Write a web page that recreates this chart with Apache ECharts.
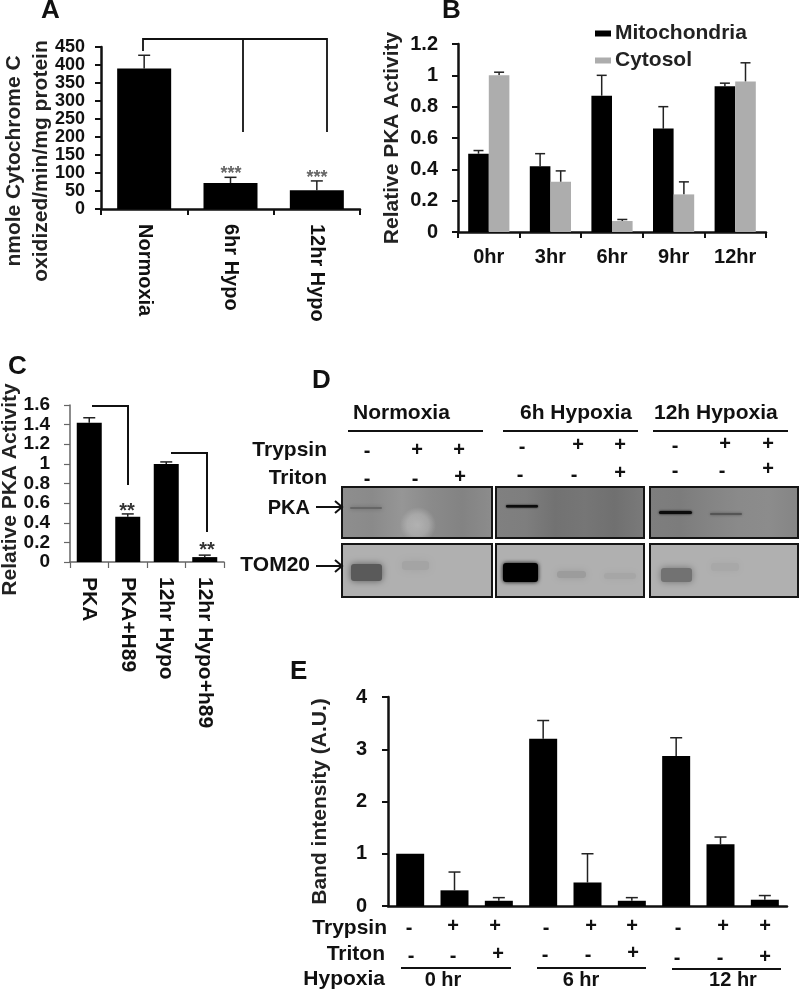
<!DOCTYPE html>
<html><head><meta charset="utf-8">
<style>html,body{margin:0;padding:0;background:#fff}#c{width:800px;height:989px}</style>
<script src="https://cdn.jsdelivr.net/npm/echarts@6/dist/echarts.min.js"></script>
</head><body><div id="c"></div>
<script>
const catA = ['Normoxia','6hr Hypo','12hr Hypo'];
const valA = [390,72,52];
const topA = [427,88,78];
const catB = ['0hr','3hr','6hr','9hr','12hr'];
const mito = [0.5,0.42,0.87,0.66,0.93];
const mitoTop = [0.52,0.5,1.0,0.8,0.95];
const cyto = [1.0,0.32,0.07,0.24,0.96];
const cytoTop = [1.02,0.39,0.08,0.32,1.08];
const catC = ['PKA','PKA+H89','12hr Hypo','12hr Hypo+h89'];
const valC = [1.42,0.46,1.0,0.05];
const topC = [1.47,0.49,1.02,0.07];
const catE = ['0 hr -/-','0 hr +/-','0 hr +/+','6 hr -/-','6 hr +/-','6 hr +/+','12 hr -/-','12 hr +/-','12 hr +/+'];
const valE = [1,0.3,0.1,3.2,0.45,0.1,2.87,1.18,0.12];
const topE = [1,0.65,0.16,3.55,1.0,0.16,3.22,1.32,0.2];

const FF = '"Liberation Sans", Arial, sans-serif';
const INK = '#111';

function errSeries(gi, vals, tops, off, cap, color) {
  return {
    type:'custom', xAxisIndex:gi, yAxisIndex:gi, z:1, silent:true,
    data: vals.map((v,i)=>[i,v,tops[i]]),
    encode:{x:0,y:[1,2]},
    renderItem(p, api){
      if (api.value(2) <= api.value(1)) return null;
      const a = api.coord([api.value(0),api.value(1)]);
      const b = api.coord([api.value(0),api.value(2)]);
      const x = a[0]+off;
      const st = {stroke:color||'#222',lineWidth:1.5,fill:null};
      return {type:'group',children:[
        {type:'line',shape:{x1:x,y1:a[1],x2:x,y2:b[1]},style:st},
        {type:'line',shape:{x1:x-cap,y1:b[1],x2:x+cap,y2:b[1]},style:st}
      ]};
    }
  };
}
function bar(gi, vals, w, color, name, extra) {
  return Object.assign({type:'bar',name,xAxisIndex:gi,yAxisIndex:gi,data:vals,barWidth:w,barGap:0,z:2,
    itemStyle:{color},silent:true},extra||{});
}
function xAx(gi, cats, o) {
  return Object.assign({type:'category',gridIndex:gi,data:cats,
    axisLine:{lineStyle:{color:INK,width:2.5}},
    axisTick:{show:true,length:6,lineStyle:{color:INK,width:2}},
    axisLabel:{fontFamily:FF,fontWeight:'bold',fontSize:20,color:INK,margin:15,interval:0}},o||{});
}
function yAx(gi, min, max, itv, margin, size, name, gap, o) {
  return Object.assign({type:'value',gridIndex:gi,min,max,interval:itv,splitLine:{show:false},
    axisLine:{show:true,lineStyle:{color:INK,width:2.5}},
    axisTick:{show:true,length:6,lineStyle:{color:INK,width:2}},
    axisLabel:{fontFamily:FF,fontWeight:'bold',fontSize:size,color:INK,margin,showMinLabel:true,showMaxLabel:true,
      formatter:v=>String(+v.toFixed(1))},
    name,nameLocation:'middle',nameGap:gap,nameRotate:90,nameMoveOverlap:false,
    nameTextStyle:{fontFamily:FF,fontWeight:'bold',fontSize:21,color:'#222'}},o||{});
}

const g = [];
function T(x,y,text,size,align,color,extra){
  g.push({type:'text',x,y,silent:true,style:Object.assign({text,font:`bold ${size}px ${FF}`,fill:color||INK,
    textAlign:align||'left',textVerticalAlign:'middle',verticalAlign:'middle',align:align||'left'},extra||{})});
}
function L(pts,w,color){
  g.push({type:'polyline',silent:true,shape:{points:pts},style:{stroke:color||INK,lineWidth:w||2,fill:null}});
}
function band(x,y,w,h,color,blur){
  g.push({type:'rect',silent:true,shape:{x,y,width:w,height:h,r:Math.min(h/2,3)},
    style:{fill:color,shadowBlur:blur,shadowColor:color}});
}
function blob(x,y,w,h,rgb,a){
  g.push({type:'rect',silent:true,shape:{x,y,width:w,height:h},style:{fill:{type:'radial',x:0.5,y:0.5,r:0.5,
    colorStops:[{offset:0,color:`rgba(${rgb},${a})`},{offset:0.6,color:`rgba(${rgb},${a*0.7})`},{offset:1,color:`rgba(${rgb},0)`}]}}});
}
function panel(x,y,w,h,fill){
  g.push({type:'rect',silent:true,shape:{x,y,width:w,height:h},style:{fill,stroke:null}});
}
function hgrad(stops){
  return {type:'linear',x:0,y:0,x2:1,y2:0,colorStops:stops.map((c,i)=>({offset:i/(stops.length-1),color:c}))};
}
function frame(x,y,w,h){
  g.push({type:'rect',silent:true,shape:{x,y,width:w,height:h},style:{fill:null,stroke:'#151515',lineWidth:2}});
}

// panel letters
T(41,11,'A',26); T(442,11,'B',26); T(8,367,'C',26); T(312,381,'D',26); T(290,672,'E',26);

// A annotations
L([[143,51],[143,39],[327,39],[327,132]],1.8);
L([[243,39],[243,132]],1.8);
T(231,174,'***',18,'center','#666'); T(317,178,'***',18,'center','#666');

// C annotations
L([[92,406],[128,406],[128,485]],2);
L([[171,453],[207,453],[207,532]],2);
T(127,511,'**',20,'center','#333'); T(207,550,'**',20,'center','#333');

// D blots
const px = [[342,150],[496,148],[650,148]];
const fillsP = [
  hgrad(['#8e8e8e','#8a8a8a','#969696','#8a8a8a','#838383','#8c8c8c']),
  hgrad(['#808080','#7e7e7e','#727272','#767676','#707070','#7a7a7a']),
  hgrad(['#7e7e7e','#7c7c7c','#848484','#8a8a8a','#8c8c8c','#858585'])];
px.forEach((p,i)=>panel(p[0],487,p[1],51,fillsP[i]));
px.forEach(p=>panel(p[0],544,p[1],53,'#b0b0b0'));
blob(400,507,36,36,'255,255,255',0.3);
band(350,507,32,2,'#666',4);
band(506,505,32,2.5,'#0c0c0c',2);
band(659,511,33,3,'#0c0c0c',2.5);
band(710,513,32,2,'#555',3);
band(351,564,31,17,'#5a5a5a',7);
band(402,561,27,9,'#a4a4a4',8);
band(503,563,35,19,'#000',4);
band(557,571,29,7,'#9c9c9c',7);
band(604,573,32,6,'#a6a6a6',6);
band(661,568,31,14,'#727272',7);
band(711,563,28,8,'#a8a8a8',7);
px.forEach(p=>{frame(p[0],487,p[1],51);frame(p[0],544,p[1],53);});
L([[348,431],[483,431]],2); L([[503,431],[638,431]],2); L([[653,431],[788,431]],2);
T(353,413,'Normoxia',21); T(520,413,'6h Hypoxia',21); T(654,413,'12h Hypoxia',21);
T(327,450,'Trypsin',21,'right'); T(327,478,'Triton',21,'right');
T(310,508,'PKA',20,'right'); T(310,565,'TOM20',21,'right');
[[316,507],[316,566]].forEach(a=>{
  L([[a[0],a[1]],[a[0]+26,a[1]]],2);
  L([[a[0]+19,a[1]-6],[a[0]+26,a[1]],[a[0]+19,a[1]+6]],2);
});
const signsD = [
 ['-',367,451],['+',417,450],['+',459,450],['-',367,479],['-',415,479],['+',460,477],
 ['-',522,447],['+',578,445],['+',620,445],['-',520,475],['-',574,475],['+',620,473],
 ['-',675,446],['+',725,444],['+',768,444],['-',675,471],['-',722,471],['+',768,469]];
signsD.forEach(s=>T(s[1],s[2],s[0],20,'center'));

// E table
T(387,928,'Trypsin',21,'right'); T(385,954,'Triton',21,'right'); T(385,979,'Hypoxia',21,'right');
const signsE = [
 ['-',409,928],['+',453,926],['+',495,926],['-',546,928],['+',591,926],['+',632,926],['-',678,928],['+',723,926],['+',765,926],
 ['-',411,956],['-',453,956],['+',498,954],['-',545,955],['-',588,955],['+',633,953],['-',677,958],['-',720,958],['+',765,957]];
signsE.forEach(s=>T(s[1],s[2],s[0],20,'center'));
L([[401,968],[511,968]],2); L([[537,968],[646,968]],2); L([[672,969],[781,969]],2);
T(443,980,'0 hr',20,'center'); T(581,980,'6 hr',20,'center'); T(733,980,'12 hr',20,'center');

const gridBase = {outerBoundsMode:'none',containLabel:false};
const option = {
  animation:false, backgroundColor:'#fff',
  grid:[
    Object.assign({left:101,top:47,width:259,height:162},gridBase),
    Object.assign({left:458,top:44,width:308,height:188},gridBase),
    Object.assign({left:70,top:405,width:154,height:157},gridBase),
    Object.assign({left:388,top:697,width:399,height:209},gridBase)
  ],
  legend:{data:[{name:'Mitochondria',icon:'rect'},{name:'Cytosol',icon:'rect'}],orient:'vertical',left:595,top:23,padding:0,
    itemWidth:16,itemHeight:6,itemGap:6,selectedMode:false,
    textStyle:{fontFamily:FF,fontWeight:'bold',fontSize:21,color:'#222',padding:[0,0,0,-1]}},
  xAxis:[
    xAx(0,catA,{axisLabel:{fontFamily:FF,fontWeight:'bold',fontSize:20,color:INK,margin:15,rotate:-90,interval:0}}),
    xAx(1,catB),
    xAx(2,catC,{axisLine:{lineStyle:{color:'#666',width:1.5}},axisTick:{show:true,length:6,lineStyle:{color:'#666',width:1.2}},
      axisLabel:{fontFamily:FF,fontWeight:'bold',fontSize:21,color:INK,margin:15,rotate:-90,interval:0}}),
    xAx(3,catE,{axisTick:{show:false},axisLabel:{show:false}})
  ],
  yAxis:[
    yAx(0,0,450,50,16,18,'nmole Cytochrome C\noxidized/min/mg protein',46,{
      nameTextStyle:{fontFamily:FF,fontWeight:'bold',fontSize:21,lineHeight:27,color:'#222',padding:[0,66,0,0]}}),
    yAx(1,0,1.2,0.2,20,20,'Relative PKA Activity',55),
    yAx(2,0,1.6,0.2,20,19,'Relative PKA Activity',49,{
      nameTextStyle:{fontFamily:FF,fontWeight:'bold',fontSize:21,color:'#222',padding:[0,12,0,0]},
      axisLine:{show:true,lineStyle:{color:'#666',width:1.5}},axisTick:{show:true,length:6,lineStyle:{color:'#666',width:1.2}}}),
    yAx(3,0,4,1,21,20,'Band intensity (A.U.)',57)
  ],
  series:[
    errSeries(0,valA,topA,0,6),
    bar(0,valA,54,'#000','A'),
    errSeries(1,mito,mitoTop,-10.3,5),
    errSeries(1,cyto,cytoTop,10.3,5),
    bar(1,mito,20.6,'#000','Mitochondria'),
    bar(1,cyto,20.6,'#adadad','Cytosol'),
    errSeries(2,valC,topC,0,6),
    bar(2,valC,25,'#000','C'),
    errSeries(3,valE,topE,0,6),
    bar(3,valE,28,'#000','E')
  ],
  graphic:{elements:g}
};
const chart = echarts.init(document.getElementById('c'),null,{renderer:'canvas'});
chart.setOption(option);
</script></body></html>
